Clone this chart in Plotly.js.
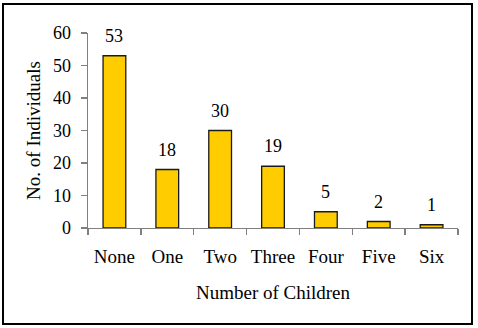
<!DOCTYPE html>
<html><head><meta charset="utf-8">
<script src="https://cdn.plot.ly/plotly-3.0.1.min.js"></script>
<style>
html,body{margin:0;padding:0;background:#fff;}
#frame{position:absolute;left:2px;top:3px;width:471px;height:322px;border:2px solid #000;box-sizing:border-box;pointer-events:none;z-index:10;}
#chart{position:absolute;left:0;top:0;width:478px;height:328px;}
</style></head>
<body>
<div id="chart"></div>
<div id="frame"></div>
<script>
const categories = ["None","One","Two","Three","Four","Five","Six"];
const individuals = [53,18,30,19,5,2,1];
const yTicks = [0,10,20,30,40,50,60];

const font = "'Liberation Serif','Times New Roman',serif";

const trace = {
  type: "bar",
  x: categories,
  y: individuals,
  marker: {color: "#FFCC00", line: {color: "#1a1a1a", width: 1.3}},
  hoverinfo: "none"
};

const annotations = categories.map((c,i)=>({
  x: c, y: individuals[i], text: String(individuals[i]),
  xref: "x", yref: "y", showarrow: false, yanchor: "middle", yshift: 20,
  font: {family: font, size: 18, color: "#000"}
}));

const layout = {
  width: 478, height: 328,
  margin: {l: 88, r: 20, t: 33, b: 100},
  paper_bgcolor: "#fff", plot_bgcolor: "#fff",
  bargap: 0.57,
  showlegend: false,
  font: {family: font, color: "#000"},
  xaxis: {
    type: "category",
    tickangle: 0,
    showline: true, linecolor: "#808080", linewidth: 1.3,
    ticks: "outside", tickson: "boundaries", ticklen: 6, tickcolor: "#808080", tickwidth: 1.3,
    tickfont: {family: font, size: 19, color: "#000"},
    ticklabelstandoff: 11,
    showgrid: false, zeroline: false,
    title: {text: "Number of Children", font: {family: font, size: 19, color: "#000"}, standoff: 19}
  },
  yaxis: {
    range: [0, 60], tickvals: yTicks, ticktext: yTicks.map(String),
    showline: true, linecolor: "#808080", linewidth: 1.3,
    ticks: "outside", ticklen: 6, tickcolor: "#808080", tickwidth: 1.3,
    tickfont: {family: font, size: 18, color: "#000"},
    ticklabelstandoff: 6,
    showgrid: false, zeroline: false,
    title: {text: "No. of Individuals", font: {family: font, size: 19, color: "#000"}, standoff: 7}
  },
  annotations: annotations
};

Plotly.newPlot("chart", [trace], layout, {staticPlot: true, displayModeBar: false});
</script>
</body></html>
